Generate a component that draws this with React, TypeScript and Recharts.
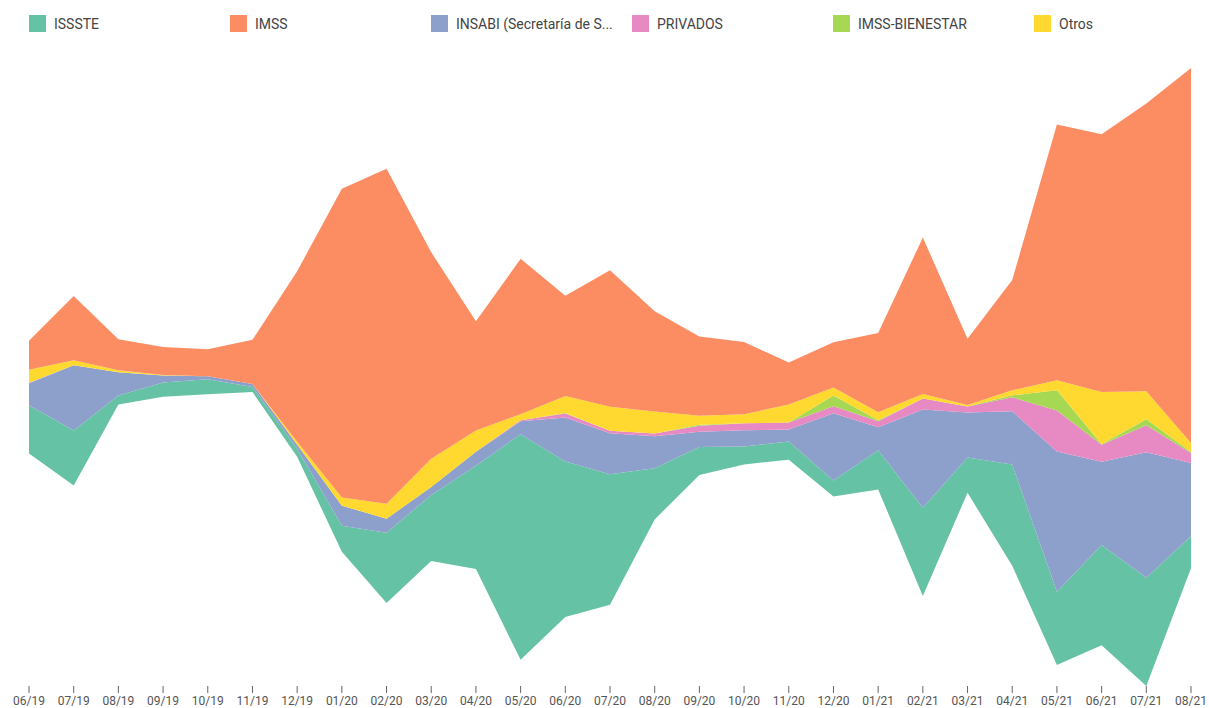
import React from "react";
import { AreaChart, Area, XAxis, YAxis } from "recharts";

const months = [
  "06/19", "07/19", "08/19", "09/19", "10/19", "11/19", "12/19", "01/20", "02/20",
  "03/20", "04/20", "05/20", "06/20", "07/20", "08/20", "09/20", "10/20", "11/20",
  "12/20", "01/21", "02/21", "03/21", "04/21", "05/21", "06/21", "07/21", "08/21",
];

const issste = [48, 55, 9, 14, 15, 5, 8, 26, 70, 66, 103, 225, 155, 130, 51, 28, 18, 18, 16, 39, 88, 35, 101, 73, 100, 108, 32];
const insabi = [22, 65, 23, 7, 3, 3, 4, 20, 14, 8, 14, 13, 44, 41, 32, 15, 16, 12, 67, 23, 98, 45, 53, 140, 83, 125, 73];
const privados = [0.5, 0, 0, 0, 0, 0, 0, 0, 0, 0, 0, 1, 4, 2.5, 2.7, 6, 7, 7, 7, 6, 11, 6, 14, 41, 17, 27, 10];
const bienestar = [0, 0, 0, 0, 0, 0, 0, 0, 0, 0, 0, 0, 0.5, 0, 0, 1, 0, 0, 10.7, 1, 0, 0, 2, 20, 0.5, 6, 1];
const otros = [13, 5, 2, 0.5, 0, 0, 3, 8, 15, 28, 21, 6, 17, 24, 22, 9, 9, 18, 8, 8, 4.5, 1.5, 5, 10, 52, 28, 9];
const imss = [29, 64, 31, 28, 27, 44, 170, 308, 334, 206, 109, 155, 100, 136, 100, 79, 72, 42, 45, 79, 156, 66, 110, 255, 257, 287, 374];

// legend order differs from stacking order
const legendItems = [
  { label: "ISSSTE", color: "#66c2a5" },
  { label: "IMSS", color: "#fc8d62" },
  { label: "INSABI (Secretaría de S...", color: "#8da0cb" },
  { label: "PRIVADOS", color: "#e78ac3" },
  { label: "IMSS-BIENESTAR", color: "#a6d854" },
  { label: "Otros", color: "#ffd92f" },
];

const data = months.map((m, i) => ({
  month: m,
  issste: issste[i],
  insabi: insabi[i],
  privados: privados[i],
  bienestar: bienestar[i],
  otros: otros[i],
  imss: imss[i],
}));

export default function App() {
  return (
    <div style={{ position: "absolute", left: 0, top: 0, width: 1209, height: 708, background: "#fff" }}>
      <div style={{ position: "absolute", left: 0, top: 0, width: 1209, height: 50 }}>
        {legendItems.map((item, i) => (
          <div
            key={item.label}
            style={{
              position: "absolute",
              left: 29 + i * 201,
              top: 15,
              display: "flex",
              alignItems: "center",
              fontFamily: "Roboto, sans-serif",
              fontSize: 14,
              color: "#444",
              whiteSpace: "nowrap",
            }}
          >
            <span style={{ width: 17, height: 17, background: item.color, display: "inline-block", marginRight: 8 }} />
            {item.label}
          </div>
        ))}
      </div>

      <AreaChart
        width={1209}
        height={708}
        data={data}
        stackOffset="wiggle"
        margin={{ top: 68, right: 18, bottom: 0, left: 29 }}
      >
        <XAxis
          dataKey="month"
          height={22}
          interval={0}
          axisLine={false}
          tickLine={{ stroke: "#666" }}
          tickSize={7}
          tickMargin={3}
          tick={{ fontFamily: "Roboto, sans-serif", fontSize: 12, fill: "#555" }}
        />
        <YAxis hide domain={["dataMin", "dataMax"]} />
        <Area type="linear" dataKey="issste" name="ISSSTE" stackId="s" stroke="none" fill="#66c2a5" fillOpacity={1} isAnimationActive={false} />
        <Area type="linear" dataKey="insabi" name="INSABI (Secretaría de Salud)" stackId="s" stroke="none" fill="#8da0cb" fillOpacity={1} isAnimationActive={false} />
        <Area type="linear" dataKey="privados" name="PRIVADOS" stackId="s" stroke="none" fill="#e78ac3" fillOpacity={1} isAnimationActive={false} />
        <Area type="linear" dataKey="bienestar" name="IMSS-BIENESTAR" stackId="s" stroke="none" fill="#a6d854" fillOpacity={1} isAnimationActive={false} />
        <Area type="linear" dataKey="otros" name="Otros" stackId="s" stroke="none" fill="#ffd92f" fillOpacity={1} isAnimationActive={false} />
        <Area type="linear" dataKey="imss" name="IMSS" stackId="s" stroke="none" fill="#fc8d62" fillOpacity={1} isAnimationActive={false} />
      </AreaChart>
    </div>
  );
}
